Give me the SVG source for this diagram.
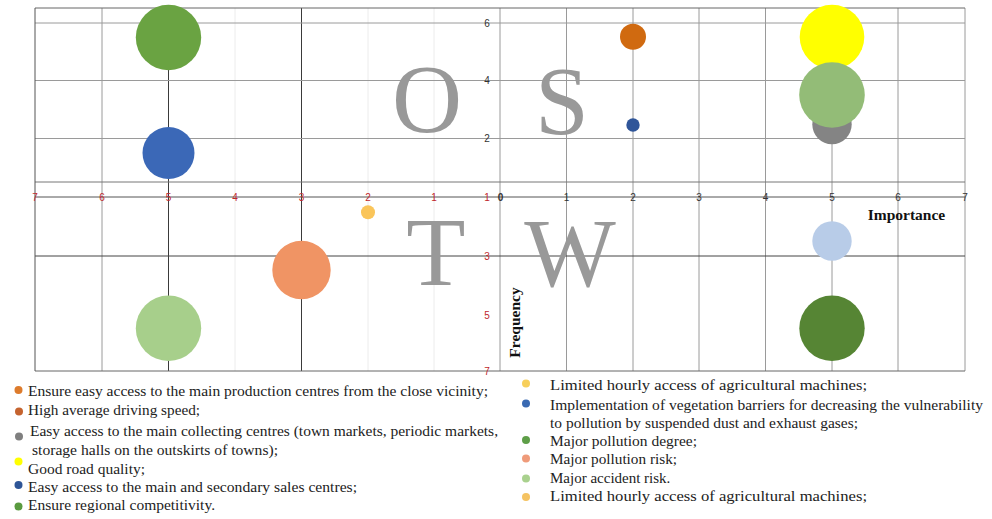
<svg xmlns="http://www.w3.org/2000/svg" width="992" height="519" viewBox="0 0 992 519">
<style>
.gl{stroke:#9a9a9a;stroke-width:1;fill:none}
.gd{stroke:#3a3a3a;stroke-width:1;fill:none}
.gf{stroke:#ececec;stroke-width:1;fill:none}
.tr{font-family:"Liberation Sans",Arial,sans-serif;font-size:10px;fill:#c0282d;text-anchor:middle}
.tk{font-family:"Liberation Sans",Arial,sans-serif;font-size:10px;fill:#333;text-anchor:middle}
.big{font-family:"Liberation Serif","Times New Roman",serif;font-size:97px;fill:#999;text-anchor:middle}
.ax{font-family:"Liberation Serif","Times New Roman",serif;font-size:15.5px;font-weight:bold;fill:#111}
.lg{font-family:"Liberation Serif","Times New Roman",serif;font-size:15px;fill:#222}
</style>
<rect width="992" height="519" fill="#fff"/>
<g id="grid">
  <line class="gf" x1="235" y1="8" x2="235" y2="371"/>
  <line class="gf" x1="368" y1="8" x2="368" y2="371"/>
  <line class="gf" x1="434" y1="8" x2="434" y2="371"/>
  <line class="gl" x1="102" y1="8" x2="102" y2="371"/>
  <line class="gd" x1="168.5" y1="8" x2="168.5" y2="371"/>
  <line class="gd" x1="301.5" y1="8" x2="301.5" y2="371"/>
  <line class="gl" x1="500" y1="8" x2="500" y2="371"/>
  <line class="gl" x1="566.5" y1="8" x2="566.5" y2="371"/>
  <line class="gl" x1="633" y1="8" x2="633" y2="371"/>
  <line class="gl" x1="699" y1="8" x2="699" y2="371"/>
  <line class="gl" x1="765.5" y1="8" x2="765.5" y2="371"/>
  <line class="gl" x1="832" y1="8" x2="832" y2="371"/>
  <line class="gl" x1="898" y1="8" x2="898" y2="371"/>
  <line class="gl" x1="965" y1="8" x2="965" y2="371"/>
  <line class="gl" x1="35" y1="23" x2="965" y2="23" stroke-width="1.5"/>
  <line class="gl" x1="35" y1="80.5" x2="965" y2="80.5"/>
  <line class="gl" x1="35" y1="138.5" x2="965" y2="138.5"/>
  <line x1="35" y1="182" x2="965" y2="182" stroke="#777"/>
  <line x1="35" y1="197" x2="965" y2="197" stroke="#555"/>
  <line x1="35" y1="256" x2="965" y2="256" stroke="#444"/>
  <line x1="35" y1="8" x2="965" y2="8" stroke="#666"/>
  <line x1="35" y1="371" x2="965" y2="371" stroke="#666"/>
  <line x1="35" y1="8" x2="35" y2="371" stroke="#555"/>
</g>
<g id="letters">
  <text class="big" x="427" y="132">O</text>
  <text class="big" x="562" y="134">S</text>
  <text class="big" x="436" y="285">T</text>
  <text class="big" x="570" y="286">W</text>
</g>
<g id="bubbles">
  <circle id="b-ul-green" cx="168.5" cy="37.5" r="32.7" fill="#6aa342"/>
  <circle id="b-ul-blue" cx="168.5" cy="153" r="26" fill="#3b68b7"/>
  <circle id="b-orange" cx="633" cy="36.7" r="13" fill="#d06a10"/>
  <circle id="b-smallblue" cx="633" cy="125" r="6.7" fill="#2f5599"/>
  <circle id="b-yellow" cx="832" cy="37" r="32.3" fill="#ffff00"/>
  <circle id="b-gray" cx="832" cy="124.5" r="19.7" fill="#848484"/>
  <circle id="b-lightgreen" cx="832" cy="95" r="32.8" fill="#93bc77"/>
  <circle id="b-smallyellow" cx="368" cy="212.3" r="7" fill="#fac55a"/>
  <circle id="b-salmon" cx="301.5" cy="270" r="29.2" fill="#f09464"/>
  <circle id="b-ll-green" cx="168.5" cy="328.3" r="32.7" fill="#a7cf8b"/>
  <circle id="b-lightblue" cx="832" cy="241" r="19.7" fill="#b8cce8"/>
  <circle id="b-darkgreen" cx="832" cy="328.3" r="32.7" fill="#568534"/>
</g>
<g id="ticks">
  <text class="tr" x="35" y="200.5">7</text>
  <text class="tr" x="102" y="200.5">6</text>
  <text class="tr" x="168.5" y="200.5">5</text>
  <text class="tr" x="235" y="200.5">4</text>
  <text class="tr" x="301.5" y="200.5">3</text>
  <text class="tr" x="368" y="200.5">2</text>
  <text class="tr" x="434" y="200.5">1</text>
  <text class="tr" x="487" y="200.5">1</text>
  <text class="tr" x="487" y="259.5">3</text>
  <text class="tr" x="487" y="318.5">5</text>
  <text class="tr" x="487" y="375">7</text>
  <text class="tk" x="487" y="26.5">6</text>
  <text class="tk" x="487" y="84">4</text>
  <text class="tk" x="487" y="142">2</text>
  <text class="tk" x="500.5" y="200.5" font-weight="bold">0</text>
  <text class="tk" x="566.5" y="200.5">1</text>
  <text class="tk" x="633" y="200.5">2</text>
  <text class="tk" x="699" y="200.5">3</text>
  <text class="tk" x="765.5" y="200.5">4</text>
  <text class="tk" x="832" y="200.5">5</text>
  <text class="tk" x="898" y="200.5">6</text>
  <text class="tk" x="965" y="200.5">7</text>
</g>
<g id="axis-titles">
  <text class="ax" x="906.5" y="220" text-anchor="middle">Importance</text>
  <text class="ax" x="0" y="0" text-anchor="middle" transform="translate(520,322.5) rotate(-90)">Frequency</text>
</g>
<g id="legend">
  <circle cx="18.5" cy="390" r="4" fill="#dd7b2c"/>
  <text class="lg" x="28" y="396" textLength="460" lengthAdjust="spacingAndGlyphs">Ensure easy access to the main production centres from the close vicinity;</text>
  <circle cx="19" cy="411.5" r="4" fill="#c5632f"/>
  <text class="lg" x="28" y="414.5" textLength="172" lengthAdjust="spacingAndGlyphs">High average driving speed;</text>
  <circle cx="19" cy="436.5" r="4" fill="#7f7f7f"/>
  <text class="lg" x="30" y="436" textLength="468" lengthAdjust="spacingAndGlyphs">Easy access to the main collecting centres (town markets, periodic markets,</text>
  <text class="lg" x="32" y="454.5" textLength="246" lengthAdjust="spacingAndGlyphs">storage halls on the outskirts of  towns);</text>
  <circle cx="18.5" cy="461.5" r="4" fill="#ffff00"/>
  <text class="lg" x="28" y="473.5" textLength="117" lengthAdjust="spacingAndGlyphs">Good road quality;</text>
  <circle cx="18.5" cy="485" r="4" fill="#2e5597"/>
  <text class="lg" x="28" y="492" textLength="329" lengthAdjust="spacingAndGlyphs">Easy access to the main and secondary sales centres;</text>
  <circle cx="18.5" cy="506.5" r="4" fill="#5a9a3f"/>
  <text class="lg" x="28" y="509.5" textLength="187" lengthAdjust="spacingAndGlyphs">Ensure regional competitivity.</text>

  <circle cx="526" cy="383.5" r="4" fill="#f7cf5b"/>
  <text class="lg" x="550" y="389.5" textLength="317" lengthAdjust="spacingAndGlyphs">Limited hourly access of agricultural machines;</text>
  <circle cx="526" cy="403.5" r="4" fill="#3a6ab2"/>
  <text class="lg" x="550" y="409.5" textLength="433" lengthAdjust="spacingAndGlyphs">Implementation of vegetation barriers for decreasing the vulnerability</text>
  <text class="lg" x="550" y="428" textLength="308" lengthAdjust="spacingAndGlyphs">to pollution  by suspended dust and exhaust gases;</text>
  <circle cx="526" cy="440" r="4" fill="#5e9e48"/>
  <text class="lg" x="550" y="446" textLength="147" lengthAdjust="spacingAndGlyphs">Major pollution degree;</text>
  <circle cx="526" cy="458.5" r="4" fill="#ef9b7a"/>
  <text class="lg" x="550" y="463.5" textLength="127" lengthAdjust="spacingAndGlyphs">Major pollution risk;</text>
  <circle cx="526" cy="478.5" r="4" fill="#a9d18e"/>
  <text class="lg" x="550" y="482.5">Major accident risk.</text>
  <circle cx="526" cy="497" r="4" fill="#f5c362"/>
  <text class="lg" x="550" y="500.5" textLength="317" lengthAdjust="spacingAndGlyphs">Limited hourly access of agricultural machines;</text>
</g>
</svg>
